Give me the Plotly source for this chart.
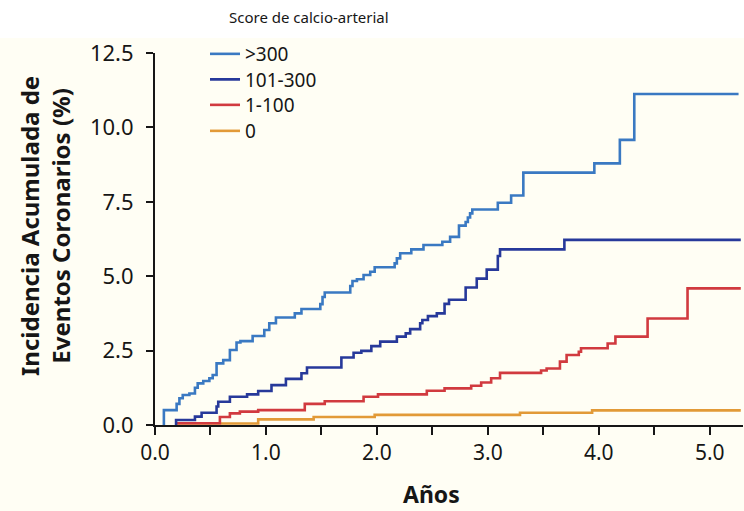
import plotly.graph_objects as go

# Step data (time in years, cumulative incidence %)
gt300_x = [0.07, 0.08, 0.195, 0.22, 0.25, 0.31, 0.36, 0.385, 0.435, 0.49, 0.52, 0.555, 0.615, 0.675, 0.735,
           0.77, 0.88, 0.985, 1.03, 1.09, 1.26, 1.32, 1.49, 1.51, 1.53, 1.76, 1.78, 1.82, 1.88, 1.94,
           1.98, 2.16, 2.18, 2.21, 2.31, 2.42, 2.59, 2.66, 2.74, 2.8, 2.82, 2.84, 2.86, 3.09, 3.21,
           3.32, 3.96, 4.19, 4.32, 5.26]
gt300_y = [0, 0.5, 0.71, 0.9, 1.01, 1.06, 1.25, 1.4, 1.48, 1.57, 1.68, 2.07, 2.18, 2.52, 2.77,
           2.82, 2.99, 3.19, 3.42, 3.61, 3.75, 3.9, 4.06, 4.3, 4.45, 4.67, 4.84, 4.9, 5.04, 5.15,
           5.3, 5.43, 5.6, 5.77, 5.9, 6.05, 6.16, 6.32, 6.7, 6.82, 6.97, 7.11, 7.24, 7.47, 7.71,
           8.48, 8.79, 9.58, 11.12, 11.12]

mid_x = [0.19, 0.19, 0.36, 0.42, 0.555, 0.57, 0.675, 0.83, 0.93, 1.05, 1.18, 1.32, 1.37, 1.68, 1.79,
         1.86, 1.95, 2.03, 2.18, 2.26, 2.3, 2.39, 2.41, 2.46, 2.54, 2.61, 2.65, 2.8, 2.9, 2.99,
         3.09, 3.11, 3.69, 5.28]
mid_y = [0, 0.17, 0.28, 0.41, 0.62, 0.78, 0.95, 1.03, 1.14, 1.34, 1.55, 1.74, 1.93, 2.27, 2.43,
         2.49, 2.65, 2.8, 2.97, 3.08, 3.22, 3.42, 3.53, 3.66, 3.75, 4.07, 4.21, 4.62, 4.92, 5.22,
         5.68, 5.9, 6.22, 6.22]

low_x = [0.19, 0.585, 0.675, 0.765, 0.93, 1.35, 1.53, 1.88, 2.01, 2.45, 2.61, 2.85, 2.94, 3.03, 3.11,
         3.48, 3.53, 3.65, 3.71, 3.82, 3.84, 4.08, 4.15, 4.44, 4.8, 5.28]
low_y = [0.06, 0.27, 0.39, 0.45, 0.5, 0.71, 0.8, 0.95, 1.03, 1.15, 1.23, 1.32, 1.43, 1.57, 1.75,
         1.83, 1.9, 2.13, 2.35, 2.46, 2.58, 2.74, 2.97, 3.58, 4.59, 4.59]

zero_x = [0.2, 0.93, 1.43, 1.98, 3.29, 3.94, 5.28]
zero_y = [0.05, 0.19, 0.27, 0.34, 0.41, 0.49, 0.49]

x_ticks = [0, 1, 2, 3, 4, 5]
x_tick_labels = ["0.0", "1.0", "2.0", "3.0", "4.0", "5.0"]
y_ticks = [0, 2.5, 5, 7.5, 10, 12.5]
y_tick_labels = ["0.0", "2.5", "5.0", "7.5", "10.0", "12.5"]

# (name, x, y, colour, legend id, legend row centre in px)
series = [
    ("0", zero_x, zero_y, "#e29a37", "legend4", 131),
    ("1-100", low_x, low_y, "#d13a3f", "legend3", 105),
    ("101-300", mid_x, mid_y, "#27399a", "legend2", 79.5),
    (">300", gt300_x, gt300_y, "#3a79c2", "legend", 54),
]

FONT = "Noto Sans"
INK = "#161616"
CREAM = "#fffef4"

L, R, T, B = 155, 1, 53, 86
W, H = 744, 511
pw, ph = W - L - R, H - T - B

def px2x(px):
    return (px - L) / pw

def py2y(py):
    return (H - B - py) / ph

fig = go.Figure()
legends = {}
for name, xs, ys, col, leg, row in series:
    fig.add_trace(go.Scatter(x=xs, y=ys, name=name, mode="lines", legend=leg,
                             line=dict(color=col, width=2.6, shape="hv")))
    legends[leg] = dict(x=px2x(205), y=py2y(row), xanchor="left", yanchor="middle",
                        bgcolor="rgba(0,0,0,0)", font=dict(size=19, family=FONT, color=INK),
                        itemwidth=30, borderwidth=0)

fig.update_layout(
    width=W, height=H,
    margin=dict(l=L, r=R, t=T, b=B),
    paper_bgcolor=CREAM, plot_bgcolor=CREAM,
    font=dict(family=FONT, color=INK, size=21),
    showlegend=True,
    **legends,
    shapes=[dict(type="rect", xref="paper", yref="paper", x0=px2x(-5), x1=px2x(W + 5),
                 y0=py2y(38), y1=py2y(-5), fillcolor="white", line=dict(width=0), layer="below")],
    annotations=[
        dict(text="Score de calcio-arterial", xref="paper", yref="paper", x=px2x(309), y=py2y(17),
             showarrow=False, font=dict(size=15, family=FONT, color=INK), xanchor="center", yanchor="middle"),
        dict(text="<b>Incidencia Acumulada de<br>Eventos Coronarios (%)</b>", xref="paper", yref="paper",
             x=px2x(45), y=py2y(226), textangle=-90, showarrow=False,
             font=dict(size=24, family=FONT, color=INK), xanchor="center", yanchor="middle"),
        dict(text="<b>Años</b>", xref="paper", yref="paper", x=px2x(431), y=py2y(494),
             showarrow=False, font=dict(size=23, family=FONT, color=INK), xanchor="center", yanchor="middle"),
    ],
)

fig.update_xaxes(range=[0, 5.3], tickvals=x_ticks, ticktext=x_tick_labels, showgrid=False, zeroline=False,
                 showline=True, linecolor=INK, linewidth=2, ticks="outside", ticklen=8, tickwidth=2,
                 tickcolor=INK, tickfont=dict(size=21, family=FONT, color=INK),
                 minor=dict(dtick=0.5, ticks="outside", ticklen=8, tickwidth=2, tickcolor=INK, showgrid=False))
fig.update_yaxes(range=[0, 12.5], tickvals=y_ticks, ticktext=y_tick_labels, showgrid=False, zeroline=False,
                 showline=True, linecolor=INK, linewidth=2, ticks="outside", ticklen=7, tickwidth=2,
                 tickcolor=INK, tickfont=dict(size=22, family=FONT, color=INK), ticklabelstandoff=8)

fig.write_html("out.html", config={"displayModeBar": False},
               post_script="document.body.style.margin='0';document.body.style.overflow='hidden';")
